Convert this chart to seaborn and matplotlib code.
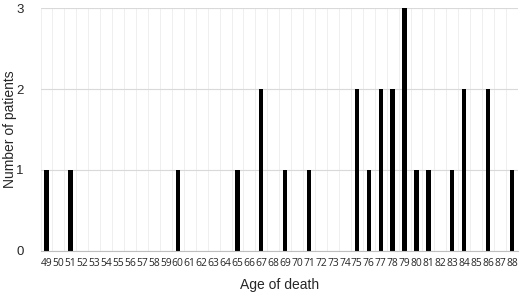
import matplotlib
matplotlib.use("Agg")
import matplotlib.pyplot as plt
import seaborn as sns
import pandas as pd
import numpy as np

ages = list(range(49, 89))
age_labels = [str(a) for a in ages]
count_map = {49: 1, 51: 1, 60: 1, 65: 1, 67: 2, 69: 1, 71: 1, 75: 2, 76: 1,
             77: 2, 78: 2, 79: 3, 80: 1, 81: 1, 83: 1, 84: 2, 86: 2, 88: 1}
counts = [count_map.get(a, 0) for a in ages]

df = pd.DataFrame({"age": age_labels, "count": counts})

sns.set_style("white")
plt.rcParams["font.family"] = ["Liberation Sans", "DejaVu Sans"]

fig = plt.figure(figsize=(5.2, 2.97), dpi=100)
ax = fig.add_axes([0.078, 0.155, 0.918, 0.818])

sns.barplot(data=df, x="age", y="count", color="black", width=0.36,
            order=age_labels, ax=ax, saturation=1, linewidth=0)

ax.set_ylim(0, 3)
ax.set_xlim(-0.5, len(ages) - 0.5)
ax.set_yticks([0, 1, 2, 3])
ax.set_yticklabels(["0", "1", "2", "3"], fontsize=9.5)
ax.set_xticks(range(len(ages)))
ax.set_xticklabels(age_labels, fontsize=7.4, family=["Open Sans", "DejaVu Sans"])
ax.set_xticks(np.arange(len(ages) + 1) - 0.5, minor=True)
ax.tick_params(axis="both", which="both", length=0)
ax.tick_params(axis="x", pad=5)
ax.tick_params(axis="y", pad=12)

ax.grid(axis="y", which="major", color="#d9d9d9", linewidth=0.8)
ax.grid(axis="x", which="minor", color="#ececec", linewidth=0.6)
ax.grid(axis="x", which="major", visible=False)
ax.set_axisbelow(True)

for s in ["top", "right", "left"]:
    ax.spines[s].set_visible(False)
ax.spines["bottom"].set_color("#bfbfbf")
ax.spines["bottom"].set_linewidth(0.8)

ax.set_xlabel("Age of death", fontsize=10)
ax.set_ylabel("Number of patients", fontsize=10)
ax.xaxis.set_label_coords(0.5, -0.11)
ax.yaxis.set_label_coords(-0.05, 0.5)

fig.savefig("out.png", dpi=100)
